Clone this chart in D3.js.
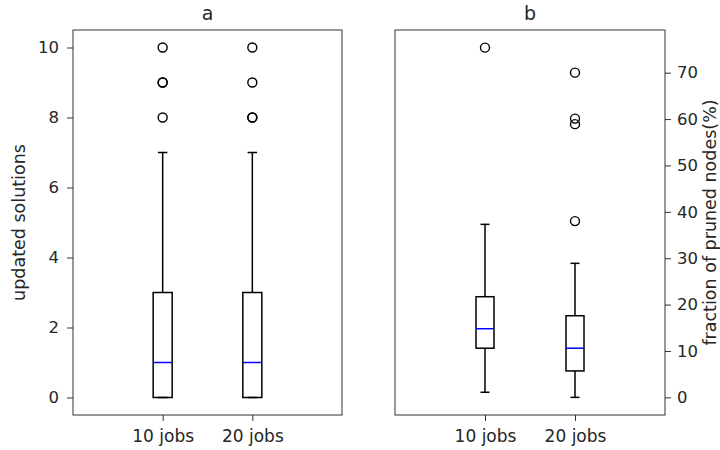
<!DOCTYPE html>
<html lang="en">
<head>
<meta charset="utf-8">
<title>Boxplots</title>
<style>
body { margin: 0; background: #fff; }
svg { display: block; font-family: "DejaVu Sans", sans-serif; }
.tick text { fill: #262626; }
.tick line, .domain { stroke: #333; }
</style>
</head>
<body>
<div id="chart"></div>
<script src="https://cdn.jsdelivr.net/npm/d3@7"></script>
<script>

var categories = ["10 jobs", "20 jobs"];

// panel a: updated solutions (box stats)
var updQ1 = [0, 0];
var updMedian = [1, 1];
var updQ3 = [3, 3];
var updLo = [0, 0];
var updHi = [7, 7];
var updOutliers = [[8, 9, 9, 10], [8, 8, 9, 10]];
var updTicks = [0, 2, 4, 6, 8, 10];

// panel b: fraction of pruned nodes (%)
var prnQ1 = [10.6, 5.7];
var prnMedian = [14.8, 10.6];
var prnQ3 = [21.7, 17.6];
var prnLo = [1.1, 0];
var prnHi = [37.3, 28.9];
var prnOutliers = [[75.4], [38.0, 58.9, 60.1, 70.0]];
var prnTicks = [0, 10, 20, 30, 40, 50, 60, 70];

var width = 720, height = 450;
var plotTop = 30, plotBottom = 415;
var font = "'DejaVu Sans', sans-serif";

var svg = d3.select("#chart").append("svg")
  .attr("width", width).attr("height", height);

function boxes(d) {
  return categories.map(function(c, i) {
    return {cat: c, q1: d.q1[i], med: d.med[i], q3: d.q3[i],
            lo: d.lo[i], hi: d.hi[i], out: d.out[i]};
  });
}

function panel(opt) {
  var x = d3.scalePoint().domain(["", categories[0], categories[1], " "])
    .range([opt.left, opt.right]);
  var y = d3.scaleLinear().domain(opt.ydomain).range([plotBottom, plotTop]);
  var g = svg.append("g");

  // frame
  g.append("rect")
    .attr("x", opt.left).attr("y", plotTop)
    .attr("width", opt.right - opt.left).attr("height", plotBottom - plotTop)
    .attr("fill", "none").attr("stroke", "#333").attr("stroke-width", 1);

  var xAxis = g.append("g").attr("transform", "translate(0," + plotBottom + ")")
    .call(d3.axisBottom(x).tickValues(categories).tickSize(6).tickPadding(7));
  xAxis.select(".domain").remove();
  xAxis.attr("font-family", font);
  xAxis.selectAll("text").attr("font-size", 17).attr("dy", "0.8em");

  var yAxis;
  if (opt.side == "left") {
    yAxis = g.append("g").attr("transform", "translate(" + opt.left + ",0)")
      .call(d3.axisLeft(y).tickValues(opt.ticks).tickSize(6).tickPadding(8));
  } else {
    yAxis = g.append("g").attr("transform", "translate(" + opt.right + ",0)")
      .call(d3.axisRight(y).tickValues(opt.ticks).tickSize(6).tickPadding(6));
  }
  yAxis.select(".domain").remove();
  yAxis.attr("font-family", font);
  yAxis.selectAll("text").attr("font-size", 16.5);

  // title
  g.append("text")
    .attr("x", (opt.left + opt.right) / 2).attr("y", 20)
    .attr("text-anchor", "middle").attr("font-size", 19).attr("fill", "#262626")
    .text(opt.title);

  // y label
  g.append("text")
    .attr("transform", "translate(" + opt.labelX + "," + ((plotTop + plotBottom) / 2) + ") rotate(-90)")
    .attr("text-anchor", "middle").attr("font-size", 17.5).attr("fill", "#262626")
    .text(opt.label);

  var bw = opt.boxWidth, cw = bw / 2;
  var b = g.selectAll(".box").data(boxes(opt.data)).enter().append("g").attr("class", "box");

  // whiskers
  b.append("line")
    .attr("x1", function(d) { return x(d.cat); }).attr("x2", function(d) { return x(d.cat); })
    .attr("y1", function(d) { return y(d.q3); }).attr("y2", function(d) { return y(d.hi); })
    .attr("stroke", "#000").attr("stroke-width", 1.5);
  b.append("line")
    .attr("x1", function(d) { return x(d.cat); }).attr("x2", function(d) { return x(d.cat); })
    .attr("y1", function(d) { return y(d.q1); }).attr("y2", function(d) { return y(d.lo); })
    .attr("stroke", "#000").attr("stroke-width", 1.5);
  // caps
  ["hi", "lo"].forEach(function(k) {
    b.append("line")
      .attr("x1", function(d) { return x(d.cat) - cw / 2; })
      .attr("x2", function(d) { return x(d.cat) + cw / 2; })
      .attr("y1", function(d) { return y(d[k]); }).attr("y2", function(d) { return y(d[k]); })
      .attr("stroke", "#000").attr("stroke-width", 1.5);
  });
  // box
  b.append("rect")
    .attr("x", function(d) { return x(d.cat) - bw / 2; })
    .attr("y", function(d) { return y(d.q3); })
    .attr("width", bw)
    .attr("height", function(d) { return y(d.q1) - y(d.q3); })
    .attr("fill", "none").attr("stroke", "#000").attr("stroke-width", 1.5);
  // median
  b.append("line")
    .attr("x1", function(d) { return x(d.cat) - bw / 2; })
    .attr("x2", function(d) { return x(d.cat) + bw / 2; })
    .attr("y1", function(d) { return y(d.med); }).attr("y2", function(d) { return y(d.med); })
    .attr("stroke", "#0000ff").attr("stroke-width", 1.5);
  // fliers
  b.selectAll("circle").data(function(d) {
      return d.out.map(function(v) { return {cat: d.cat, v: v}; });
    }).enter().append("circle")
    .attr("cx", function(d) { return x(d.cat); })
    .attr("cy", function(d) { return y(d.v); })
    .attr("r", 4.5)
    .attr("fill", "none").attr("stroke", "#000").attr("stroke-width", 1.4);
}

panel({
  left: 73, right: 342, side: "left", title: "a",
  label: "updated solutions", labelX: 25,
  ydomain: [-0.5, 10.5], ticks: updTicks, boxWidth: 19,
  data: {q1: updQ1, med: updMedian, q3: updQ3, lo: updLo, hi: updHi, out: updOutliers}
});

panel({
  left: 395, right: 665, side: "right", title: "b",
  label: "fraction of pruned nodes(%)", labelX: 716,
  ydomain: [-3.8, 79.2], ticks: prnTicks, boxWidth: 18,
  data: {q1: prnQ1, med: prnMedian, q3: prnQ3, lo: prnLo, hi: prnHi, out: prnOutliers}
});

</script>
</body>
</html>
